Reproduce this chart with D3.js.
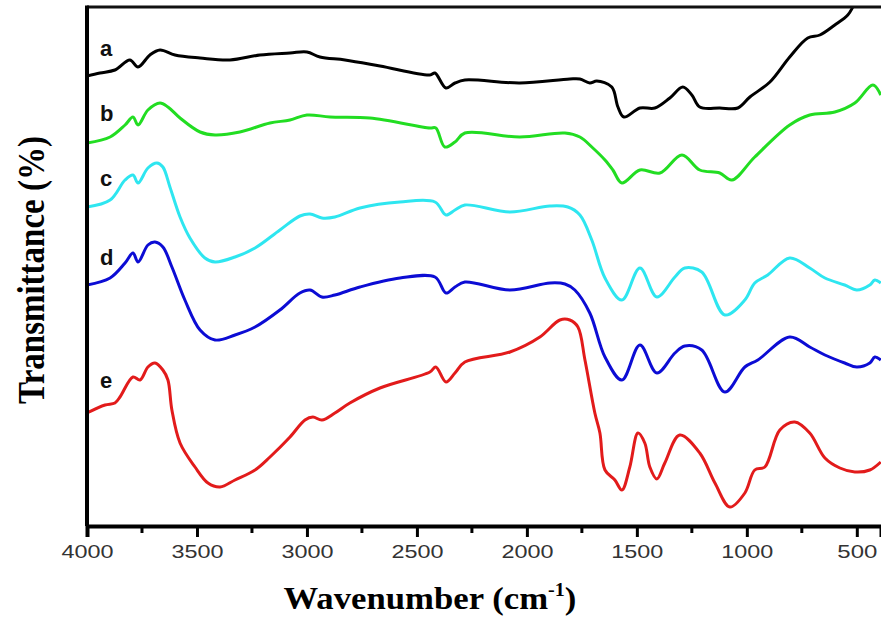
<!DOCTYPE html>
<html>
<head>
<meta charset="utf-8">
<script src="https://cdn.jsdelivr.net/npm/d3@7"></script>
<style>
  body { margin: 0; background: #fff; }
  svg { display: block; }
</style>
</head>
<body>
<script>
// FTIR spectra, [wavenumber, transmittance (arb. offset units)]
const specA = [[4000,450],[3941,453],[3873,456],[3805,466],[3768,459],[3714,471],[3668,476],[3600,471],[3486,468],[3350,466],[3214,471],[3077,473],[3000,474],[2941,469],[2827,466],[2668,460],[2441,451],[2418,453],[2368,438],[2327,443],[2282,446],[2032,443],[1805,447],[1759,447],[1714,443],[1682,445],[1614,439],[1586,419],[1559,409],[1486,418],[1418,418],[1350,428],[1291,439],[1250,431],[1214,419],[1123,418],[1041,418],[986,429],[895,444],[805,469],[723,488],[668,491],[600,501],[541,511],[518,519],[490,531],[450,546]]
const specB = [[4000,383],[3895,389],[3827,401],[3791,409],[3768,401],[3723,416],[3668,423],[3632,419],[3577,408],[3486,394],[3418,391],[3305,394],[3168,403],[3077,406],[3000,411],[2895,409],[2714,408],[2441,398],[2414,398],[2373,379],[2327,384],[2282,393],[2032,389],[1827,393],[1759,389],[1700,378],[1645,366],[1609,356],[1568,343],[1486,356],[1395,353],[1295,371],[1214,356],[1123,353],[1068,346],[964,369],[805,401],[714,411],[600,414],[509,423],[427,441],[391,431]]
const specC = [[4000,319],[3895,326],[3827,346],[3791,351],[3768,343],[3723,358],[3682,363],[3655,359],[3623,339],[3577,309],[3532,288],[3464,268],[3418,264],[3327,269],[3236,278],[3123,296],[3032,310],[2986,312],[2932,308],[2873,309],[2759,318],[2577,324],[2418,324],[2368,311],[2327,316],[2282,321],[2077,314],[1895,320],[1814,319],[1759,311],[1705,286],[1645,248],[1568,226],[1486,258],[1409,229],[1327,249],[1282,258],[1205,254],[1100,211],[1009,226],[964,243],[905,251],[805,268],[714,258],[645,248],[555,241],[500,236],[441,241],[418,246],[391,243]]
const specD = [[4000,241],[3895,248],[3827,263],[3791,273],[3768,264],[3723,281],[3691,284],[3655,279],[3614,259],[3555,226],[3486,196],[3418,186],[3327,191],[3236,199],[3123,216],[3032,233],[2986,236],[2932,229],[2873,231],[2759,239],[2577,248],[2418,249],[2368,233],[2327,239],[2282,244],[2077,236],[1895,243],[1827,242],[1782,236],[1714,213],[1645,169],[1568,146],[1486,181],[1409,153],[1327,173],[1282,180],[1205,176],[1100,134],[1009,159],[950,166],[805,189],[714,179],[645,171],[555,163],[500,159],[441,163],[418,169],[391,166]]
const specE = [[4000,113],[3918,121],[3873,123],[3850,129],[3791,149],[3759,146],[3723,159],[3691,163],[3655,156],[3632,146],[3614,116],[3577,83],[3509,59],[3450,43],[3395,39],[3327,46],[3236,56],[3168,69],[3077,89],[3009,106],[2973,109],[2932,106],[2873,113],[2805,123],[2668,138],[2441,154],[2414,159],[2368,144],[2327,153],[2282,164],[2077,174],[1941,189],[1850,206],[1805,206],[1768,199],[1736,166],[1691,113],[1668,93],[1645,56],[1600,46],[1568,36],[1532,59],[1495,93],[1464,83],[1441,59],[1409,47],[1373,63],[1305,91],[1214,73],[1145,43],[1077,19],[1009,33],[964,56],[918,59],[850,96],[782,104],[714,93],[645,68],[577,58],[509,54],[441,56],[391,64]]

const names = ['a', 'b', 'c', 'd', 'e']
const colors = ['#000000', '#22dd22', '#2ee6f0', '#0c0cd4', '#e21b1b']
const labelY = [478, 413, 348, 269, 146]
const xTicks = [4000, 3500, 3000, 2500, 2000, 1500, 1000, 500]
const xMinor = [3750, 3250, 2750, 2250, 1750, 1250, 750]

const W = 881, H = 619
const m = { top: 7, right: 0, bottom: 93, left: 87 }

const svg = d3.select('body').append('svg')
  .attr('width', W).attr('height', H)

const x = d3.scaleLinear().domain([4000, 390]).range([m.left, W - m.right])
const y = d3.scaleLinear().domain([0, 519]).range([H - m.bottom, m.top])

svg.append('clipPath').attr('id', 'plot')
  .append('rect')
  .attr('x', m.left).attr('y', m.top)
  .attr('width', W - m.left).attr('height', H - m.top - m.bottom)

const line = d3.line()
  .x(d => x(d[0]))
  .y(d => y(d[1]))
  .curve(d3.curveCatmullRom.alpha(0.5))

svg.append('g').attr('clip-path', 'url(#plot)')
  .selectAll('path')
  .data([specA, specB, specC, specD, specE])
  .join('path')
  .attr('d', line)
  .attr('fill', 'none')
  .attr('stroke', (d, i) => colors[i])
  .attr('stroke-width', 3)
  .attr('stroke-linejoin', 'round')

// series letters
svg.append('g').selectAll('text')
  .data(names)
  .join('text')
  .attr('x', 100)
  .attr('y', (d, i) => y(labelY[i]))
  .attr('dy', '0.35em')
  .attr('font-family', 'Liberation Sans, Arial, sans-serif')
  .attr('font-weight', 'bold')
  .attr('font-size', 22)
  .attr('fill', '#111')
  .text(d => d)

// frame
svg.append('line')
  .attr('x1', m.left).attr('x2', W)
  .attr('y1', m.top).attr('y2', m.top)
  .attr('stroke', '#111').attr('stroke-width', 3)
svg.append('line')
  .attr('x1', m.left).attr('x2', m.left)
  .attr('y1', m.top - 1.5).attr('y2', H - m.bottom)
  .attr('stroke', '#000').attr('stroke-width', 4)

const xAxis = svg.append('g')
  .attr('transform', `translate(0,${H - m.bottom})`)
  .call(d3.axisBottom(x).tickValues(xTicks).tickSize(11).tickPadding(8).tickFormat(d3.format('d')))
xAxis.select('.domain').attr('stroke', '#000').attr('stroke-width', 4)
xAxis.selectAll('.tick line').attr('stroke', '#000').attr('stroke-width', 3)
xAxis.selectAll('.tick text')
  .attr('font-family', 'Liberation Sans, Arial, sans-serif')
  .attr('font-size', 18)
  .attr('fill', '#333')
  .attr('textLength', 52)
  .attr('lengthAdjust', 'spacingAndGlyphs')
  .filter(d => d === 500)
  .attr('textLength', 40)

svg.append('g')
  .attr('transform', `translate(0,${H - m.bottom})`)
  .selectAll('line')
  .data(xMinor)
  .join('line')
  .attr('x1', d => x(d)).attr('x2', d => x(d))
  .attr('y1', 0).attr('y2', 7)
  .attr('stroke', '#000').attr('stroke-width', 3)

// axis titles
const xt = svg.append('text')
  .attr('transform', 'translate(430,609) scale(1.12,1)')
  .attr('text-anchor', 'middle')
  .attr('font-family', 'Liberation Serif, Times New Roman, serif')
  .attr('font-weight', 'bold')
  .attr('font-size', 31)
  .attr('fill', '#000')
xt.append('tspan').text('Wavenumber (cm')
xt.append('tspan').attr('font-size', 18).attr('dy', -13).text('-1')
xt.append('tspan').attr('dy', 13).text(')')

svg.append('text')
  .attr('transform', 'translate(44,270) rotate(-90) scale(1,1.15)')
  .attr('text-anchor', 'middle')
  .attr('font-family', 'Liberation Serif, Times New Roman, serif')
  .attr('font-weight', 'bold')
  .attr('font-size', 33)
  .attr('fill', '#000')
  .text('Transmittance (%)')
</script>
</body>
</html>
